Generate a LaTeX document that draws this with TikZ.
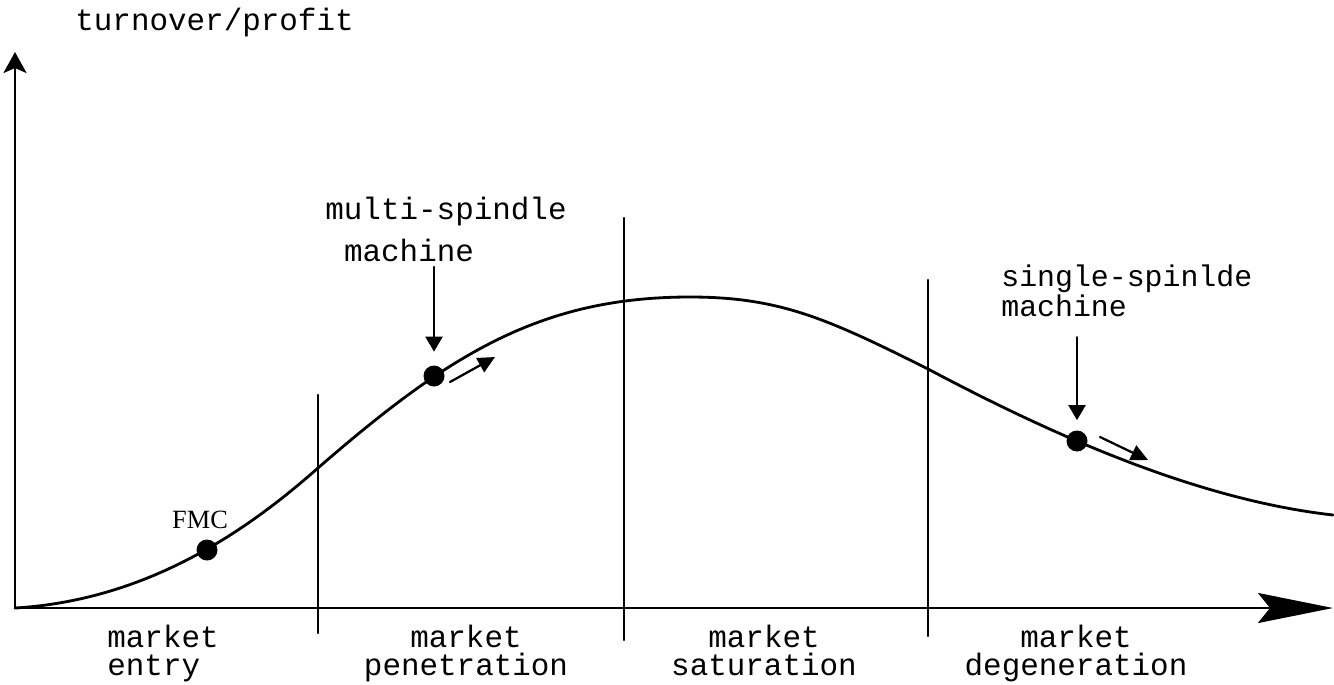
\documentclass[tikz,border=0pt]{standalone}
\usepackage{fontspec}
\setmainfont{Liberation Serif}
\setmonofont{Liberation Mono}
\usetikzlibrary{arrows.meta, positioning, calc}

\begin{document}
\begin{tikzpicture}[
  x=0.02cm, y=-0.02cm,
  font=\fontsize{17.6}{16}\selectfont\ttfamily,
  line cap=round, line join=round,
  ax/.style={line width=1.5pt},
  divider/.style={line width=1.4pt},
  curve/.style={line width=1.6pt},
  dot/.style={circle, fill=black, inner sep=0pt, minimum size=0.42cm},
  lbl/.style={inner sep=0pt},
  phase/.style={inner sep=0pt, anchor=north},
  pointer/.style={line width=1.3pt, -{Triangle[length=0.3cm, width=0.34cm]}},
  trend/.style={line width=1.3pt, -{Triangle[length=0.34cm, width=0.32cm]}},
]
\useasboundingbox (0,0) rectangle (1334,684);

% axes
\coordinate (orig) at (15,608);
\coordinate (xend) at (1333,608);
\coordinate (yend) at (15,52);
\draw[ax, -{Stealth[length=1.5cm, width=0.6cm, inset=0.24cm]}] (orig) -- (xend);
\draw[ax, -{Stealth[length=0.42cm, width=0.46cm, inset=0.1cm]}] (orig) -- (yend);
\node[lbl, anchor=west] (ylbl) at (75,22) {turnover/profit};

% phase dividers
\foreach \x/\t/\b in {318/395/633, 624/218/640, 928/280/636} {
  \draw[divider] (\x,\t) -- (\x,\b);
}

% life cycle curve
\draw[curve] (orig) .. controls (150,600) and (250,528) .. (318,468)
  .. controls (448,355) and (540,297) .. (690,297)
  .. controls (780,297) and (828,319) .. (928,369)
  .. controls (1058,438) and (1200,500) .. (1333,515);

% products on the curve
\node[dot] (fmc) at (207,550) {};
\node[dot] (multi) at (434,376) {};
\node[dot] (single) at (1077,441) {};

\node[lbl, font=\fontsize{15}{16}\selectfont\rmfamily] (fmclbl) at (200,520) {FMC};

\node[lbl] (multitop) at (446,211) {multi-spindle};
\node[lbl] (multilbl) at (409,250) {machine};
\draw[pointer, shorten <=3pt, shorten >=0.27cm] (multilbl.south -| multi) -- (multi.north);
\coordinate (multiA) at (450,382);
\coordinate (multiB) at (495,357);
\draw[trend] (multiA) -- (multiB);

\node[lbl, align=left, anchor=west, font=\fontsize{17}{17}\selectfont\ttfamily]
  (singlelbl) at (1001,291) {single-spinlde\\machine};
\draw[pointer, shorten <=0.4cm, shorten >=0.2cm] (singlelbl.south -| single) -- (single.north);
\coordinate (singleA) at (1100,437);
\coordinate (singleB) at (1148,460);
\draw[trend] (singleA) -- (singleB);

% phases
\node[phase, align=left, anchor=north west] (entry) at (107,625) {market\\entry};
\node[phase, align=center] (pen) at (466,625) {market\\penetration};
\node[phase, align=center] (sat) at (764,625) {market\\saturation};
\node[phase, align=center] (degen) at (1076,625) {market\\degeneration};
\end{tikzpicture}
\end{document}
